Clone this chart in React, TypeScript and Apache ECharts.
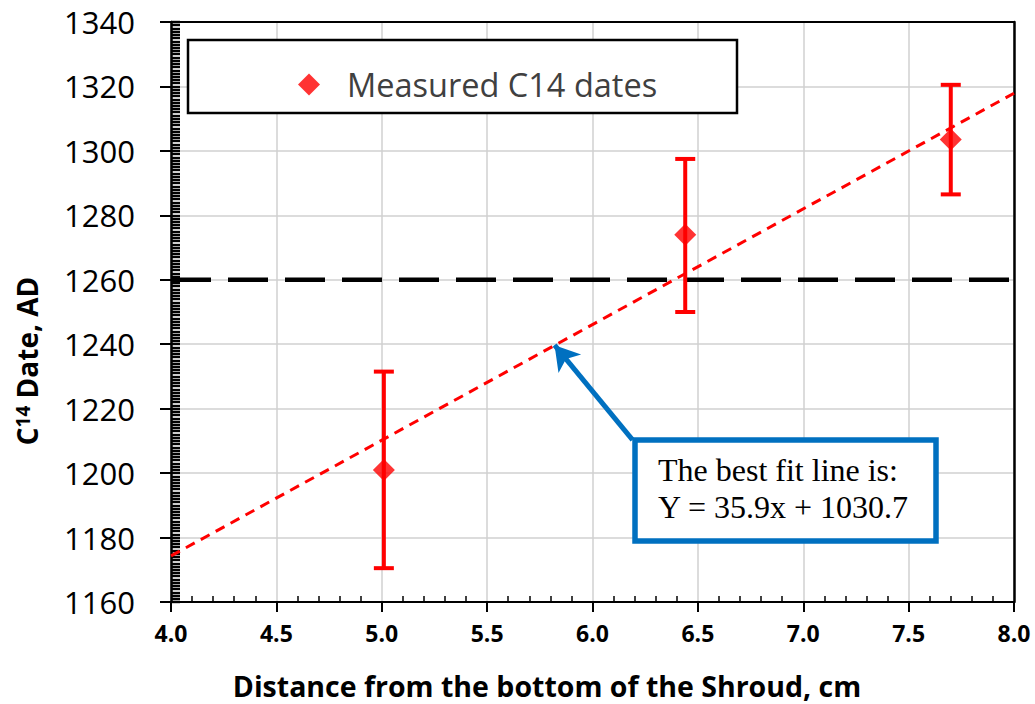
import React, { useEffect, useRef } from "react";
import * as echarts from "echarts";

const distances = [5.01, 6.44, 7.7];
const dates = [1201, 1274, 1303.5];
const errLow = [1170.5, 1250, 1286.5];
const errHigh = [1231.5, 1297.5, 1320.5];
const fitX = [4.0, 8.0];
const fitY = [1174.3, 1317.9];
const refDate = 1260;
const arrowTail = [6.19, 1210.3];
const arrowHead = [5.82, 1239.7];
const legendLabel = "Measured C14 dates";
const noteLines = ["The best fit line is:", "Y = 35.9x + 1030.7"];
const xTitle = "Distance from the bottom of the Shroud, cm";

const SANS = "'Open Sans', 'Noto Sans', sans-serif";
const SERIF = "'Liberation Serif', 'DejaVu Serif', serif";

export default function App() {
  const ref = useRef<HTMLDivElement>(null);
  useEffect(() => {
    if (!ref.current) return;
    const chart = echarts.init(ref.current, null, { renderer: "svg" });
    const xBase = {
      type: "value",
      min: 4,
      max: 8,
      interval: 0.5,
      gridIndex: 0,
    };
    const yBase = {
      type: "value",
      min: 1160,
      max: 1340,
      interval: 20,
      gridIndex: 0,
    };
    const hidden = {
      axisLabel: { show: false },
      splitLine: { show: false },
    };
    chart.setOption({
      animation: false,
      backgroundColor: "#fff",
      grid: {
        left: 171,
        right: 21,
        top: 22,
        bottom: 102,
        show: false,
      },
      legend: {
        show: true,
        data: [{ name: legendLabel, icon: "diamond" }],
        left: 293,
        top: 63,
        itemWidth: 22,
        itemHeight: 22,
        z: 20,
        textStyle: {
          fontFamily: SANS,
          fontSize: 32.5,
          color: "#404040",
          padding: [0, 0, 0, 22],
        },
      },
      xAxis: [
        {
          ...xBase,
          position: "bottom",
          axisLine: { show: true, onZero: false, lineStyle: { color: "#000", width: 2 } },
          axisTick: { show: true, inside: false, length: 10, lineStyle: { color: "#000", width: 2 } },
          axisLabel: {
            margin: 19,
            fontFamily: SANS,
            fontWeight: "bold",
            fontSize: 23,
            color: "#000",
            formatter: (v: number) => v.toFixed(1),
          },
          splitLine: { show: true, lineStyle: { color: "#d0d0d0", width: 1.5 } },
        },
        {
          ...xBase,
          ...hidden,
          position: "bottom",
          axisLine: { show: false, onZero: false },
          axisTick: { show: false, inside: true },
          minorTick: { show: true, splitNumber: 5, length: 6, lineStyle: { color: "#000", width: 1.5 } },
        },
        {
          ...xBase,
          ...hidden,
          position: "top",
          axisLine: { show: true, onZero: false, lineStyle: { color: "#000", width: 2 } },
          axisTick: { show: false },
        },
      ],
      yAxis: [
        {
          ...yBase,
          position: "left",
          axisLine: { show: true, onZero: false, lineStyle: { color: "#000", width: 2.5 } },
          axisTick: { show: true, inside: false, length: 11, lineStyle: { color: "#000", width: 2 } },
          axisLabel: {
            margin: 36,
            fontFamily: SANS,
            fontSize: 31,
            color: "#000",
            formatter: (v: number) => String(v),
          },
          splitLine: { show: true, lineStyle: { color: "#d0d0d0", width: 1.5 } },
        },
        {
          ...yBase,
          ...hidden,
          position: "left",
          axisLine: { show: false, onZero: false },
          axisTick: { show: true, inside: true, length: 9, lineStyle: { color: "#000", width: 2.4 } },
          minorTick: { show: true, splitNumber: 20, length: 9, lineStyle: { color: "#000", width: 2.4 } },
        },
        {
          ...yBase,
          ...hidden,
          position: "right",
          axisLine: { show: true, onZero: false, lineStyle: { color: "#000", width: 2.5 } },
          axisTick: { show: false },
        },
      ],
      series: [
        {
          type: "line",
          name: "ref",
          data: [
            [fitX[0], refDate],
            [fitX[1], refDate],
          ],
          symbol: "none",
          lineStyle: { color: "#000", width: 4.5, type: [40, 17] },
          z: 3,
          silent: true,
        },
        {
          type: "line",
          name: "fit",
          data: fitX.map((x, i) => [x, fitY[i]]),
          symbol: "none",
          lineStyle: { color: "#ff0000", width: 3, type: [10, 7] },
          z: 4,
          silent: true,
          markLine: {
            silent: true,
            symbol: ["none", "arrow"],
            symbolSize: [22, 24],
            label: { show: false },
            lineStyle: { color: "#0070C0", width: 5, type: "solid" },
            data: [[{ coord: arrowTail }, { coord: arrowHead }]],
          },
        },
        {
          type: "custom",
          name: "err",
          data: distances.map((d, i) => [d, errLow[i], errHigh[i]]),
          encode: { x: 0, y: [1, 2] },
          z: 5,
          renderItem: (params: any, api: any) => {
            const x = api.value(0);
            const top = api.coord([x, api.value(2)]);
            const bot = api.coord([x, api.value(1)]);
            const hw = 10;
            const style = { stroke: "#ff0000", lineWidth: 4 };
            return {
              type: "group",
              children: [
                { type: "line", shape: { x1: top[0], y1: top[1], x2: bot[0], y2: bot[1] }, style },
                { type: "line", shape: { x1: top[0] - hw, y1: top[1], x2: top[0] + hw, y2: top[1] }, style },
                { type: "line", shape: { x1: bot[0] - hw, y1: bot[1], x2: bot[0] + hw, y2: bot[1] }, style },
              ],
            };
          },
        },
        {
          type: "scatter",
          name: legendLabel,
          data: distances.map((d, i) => [d, dates[i]]),
          symbol: "diamond",
          symbolSize: 22,
          itemStyle: { color: "#ff0000" },
          z: 6,
        },
      ],
      graphic: [
        {
          type: "rect",
          z: 10,
          shape: { x: 188, y: 40, width: 549, height: 73 },
          style: { fill: "#fff", stroke: "#000", lineWidth: 2.5 },
        },
        {
          type: "rect",
          z: 10,
          shape: { x: 635, y: 440, width: 301, height: 101 },
          style: { fill: "#fff", stroke: "#0070C0", lineWidth: 5.5 },
        },
        {
          type: "text",
          z: 11,
          x: 658,
          y: 451,
          style: {
            text: noteLines.join("\n"),
            font: `32px ${SERIF}`,
            fill: "#000",
            lineHeight: 37,
          },
        },
        {
          type: "text",
          z: 11,
          x: 547,
          y: 686,
          style: {
            text: xTitle,
            font: `bold 28.5px ${SANS}`,
            fill: "#000",
            align: "center",
            verticalAlign: "middle",
          },
        },
        {
          type: "text",
          z: 11,
          x: 27,
          y: 361,
          rotation: Math.PI / 2,
          style: {
            text: "{a|C}{s|14}{a| Date, AD}",
            align: "center",
            verticalAlign: "middle",
            rich: {
              a: { fontFamily: SANS, fontWeight: "bold", fontSize: 28, fill: "#000" },
              s: { fontFamily: SANS, fontWeight: "bold", fontSize: 19, fill: "#000", verticalAlign: "top" },
            },
          },
        },
      ],
    });
    return () => chart.dispose();
  }, []);
  return (
    <div
      ref={ref}
      style={{ position: "absolute", left: 0, top: 0, width: 1035, height: 704 }}
    />
  );
}
